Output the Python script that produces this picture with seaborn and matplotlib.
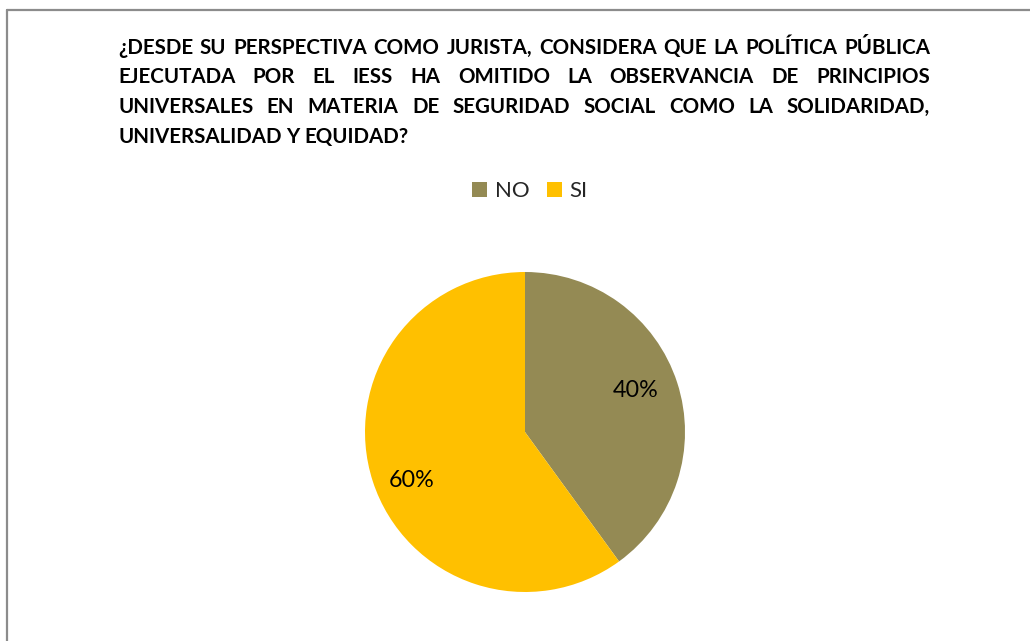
import matplotlib
matplotlib.use("Agg")
import matplotlib.pyplot as plt
import seaborn as sns
from matplotlib.patches import Patch
from matplotlib.lines import Line2D

# data
labels = ["NO", "SI"]
values = [40, 60]
colors = ["#948A54", "#FFC000"]

title_lines = [
    "¿DESDE SU PERSPECTIVA COMO JURISTA, CONSIDERA QUE LA POLÍTICA PÚBLICA",
    "EJECUTADA POR EL IESS HA OMITIDO LA OBSERVANCIA DE PRINCIPIOS",
    "UNIVERSALES EN MATERIA DE SEGURIDAD SOCIAL COMO LA SOLIDARIDAD,",
    "UNIVERSALIDAD Y EQUIDAD?",
]

sns.set_theme(style="white")
plt.rcParams["font.family"] = ["Lato", "DejaVu Sans"]

W, H = 1030, 641
fig = plt.figure(figsize=(W / 100, H / 100), dpi=100)
fig.patch.set_facecolor("white")

# frame lines (left and top)
fig.add_artist(Line2D([6.5 / W, 6.5 / W], [0, 1 - 10 / H], color="#8c8c8c", lw=1.6))
fig.add_artist(Line2D([6.5 / W, 1], [1 - 10 / H, 1 - 10 / H], color="#8c8c8c", lw=1.6))

# pie
cx, cy, r = 525, 432, 160
ax = fig.add_axes([(cx - r) / W, (H - cy - r) / H, 2 * r / W, 2 * r / H])
wedges, texts, autotexts = ax.pie(
    values,
    colors=colors,
    startangle=90,
    counterclock=False,
    autopct="%1.0f%%",
    pctdistance=0.76,
    wedgeprops={"linewidth": 0, "edgecolor": "none"},
    textprops={"fontsize": 16.8, "color": "black"},
)
# label spots as placed in the original
autotexts[0].set_position((0.69, 0.26))
autotexts[1].set_position((-0.71, -0.305))
ax.set_xlim(-1, 1)
ax.set_ylim(-1, 1)
ax.set_aspect("equal")
ax.axis("off")

# legend
handles = [Patch(facecolor=c, edgecolor="none") for c in colors]
fig.legend(
    handles, labels, loc="center", bbox_to_anchor=(530 / W, 1 - 191 / H),
    ncol=2, frameon=False, fontsize=16, handlelength=0.66, handleheight=0.66,
    handletextpad=0.35, columnspacing=0.8,
)

# justified bold title
left, right = 118, 930
baselines = [54, 83, 113, 143]
fig.canvas.draw()
renderer = fig.canvas.get_renderer()
for i, line in enumerate(title_lines):
    words = line.split(" ")
    objs = []
    for w in words:
        t = fig.text(0, 1 - baselines[i] / H, w, fontsize=14.8, fontweight="bold",
                     va="baseline", ha="left", color="black")
        objs.append(t)
    widths = [t.get_window_extent(renderer).width for t in objs]
    if i < len(title_lines) - 1:
        gap = (right - left - sum(widths)) / (len(words) - 1)
    else:
        gap = objs[0].get_fontsize() * 100 / 72 * 0.24
    x = left
    for t, wd in zip(objs, widths):
        t.set_x(x / W)
        x += wd + gap

fig.savefig("out.png", dpi=100, facecolor="white")
